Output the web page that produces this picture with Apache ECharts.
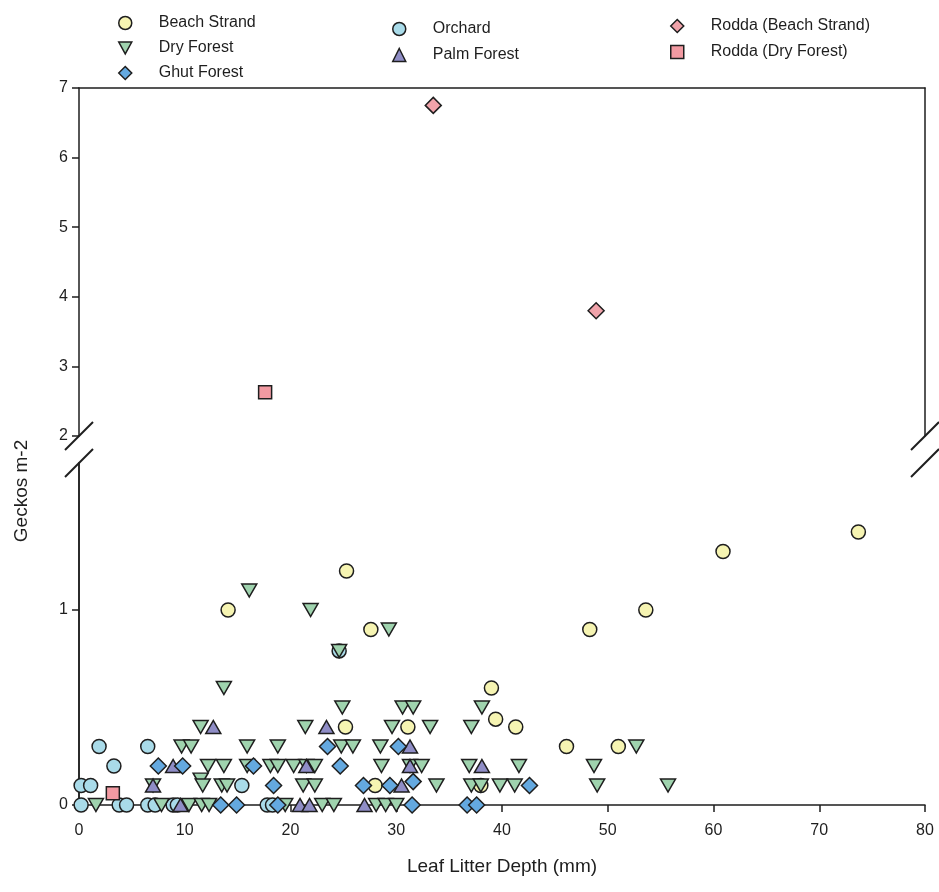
<!DOCTYPE html>
<html>
<head>
<meta charset="utf-8">
<script src="https://cdn.jsdelivr.net/npm/echarts@6/dist/echarts.min.js"></script>
<style>
html,body{margin:0;padding:0;background:#fff}
#chart{width:939px;height:892px}
</style>
</head>
<body>
<div id="chart"></div>
<script>
// leaf litter depth (mm), geckos per m2
var beachStrand = [[14.1,1.0],[25.3,1.2],[27.6,0.9],[25.2,0.4],[31.1,0.4],[39.0,0.6],[39.4,0.44],[41.3,0.4],
    [46.1,0.3],[51.0,0.3],[48.3,0.9],[53.6,1.0],[60.9,1.3],[73.7,1.4],[28.0,0.1],[38.0,0.1]];
var orchard = [[1.9,0.3],[6.5,0.3],[3.3,0.2],[0.2,0.1],[1.1,0.1],[15.4,0.1],[24.6,0.79],
    [0.2,0],[3.8,0],[4.5,0],[6.5,0],[7.2,0],[8.9,0],[9.3,0],[17.8,0],[18.3,0]];
var dryForest = [[16.1,1.1],[21.9,1.0],[29.3,0.9],[24.6,0.79],[13.7,0.6],
    [24.9,0.5],[30.6,0.5],[31.6,0.5],[38.1,0.5],
    [11.5,0.4],[21.4,0.4],[29.6,0.4],[33.2,0.4],[37.1,0.4],
    [9.7,0.3],[10.6,0.3],[15.9,0.3],[18.8,0.3],[24.8,0.3],[25.9,0.3],[28.5,0.3],[52.7,0.3],
    [12.2,0.2],[13.7,0.2],[15.9,0.2],[18.1,0.2],[18.8,0.2],[20.3,0.2],[21.5,0.2],[22.3,0.2],[28.6,0.2],
    [31.3,0.2],[32.4,0.2],[36.9,0.2],[41.6,0.2],[48.7,0.2],
    [7.0,0.1],[11.5,0.13],[11.7,0.1],[13.5,0.1],[14.0,0.1],[21.2,0.1],[22.3,0.1],[33.8,0.1],[37.1,0.1],
    [38.0,0.1],[39.8,0.1],[41.2,0.1],[49.0,0.1],[55.7,0.1],
    [1.6,0],[7.8,0],[10.4,0],[11.6,0],[12.3,0],[19.5,0],[23.0,0],[24.1,0],[28.1,0],[29.0,0],[30.0,0]];
var palmForest = [[12.7,0.4],[23.4,0.4],[31.3,0.3],[8.9,0.2],[21.5,0.2],[31.3,0.2],[38.1,0.2],
    [7.0,0.1],[30.5,0.1],[9.6,0],[20.9,0],[21.8,0],[27.0,0]];
var ghutForest = [[23.5,0.3],[30.2,0.3],[7.5,0.2],[9.8,0.2],[16.5,0.2],[24.7,0.2],
    [18.4,0.1],[26.9,0.1],[29.4,0.1],[31.6,0.12],[42.6,0.1],
    [13.4,0],[14.9,0],[18.8,0],[31.5,0],[36.7,0],[37.6,0]];
var roddaBeach = [[33.5,6.75],[48.9,3.8]];
var roddaDry = [[17.6,2.63],[3.2,0.06]];

var xTicks = [0,10,20,30,40,50,60,70,80];
var yTicksUpper = [2,3,4,5,6,7];
var yTicksLower = [0,1];

// layout of the two stacked panels (broken y axis)
var L = 79, R = 925, TOP = 88, BRK1 = 436, BRK2 = 463, BOT = 805;
var lowerMax = (BOT - BRK2) / 195; // 195 px per unit in lower panel

var font = 'Liberation Sans, Arial, sans-serif';
var ink = '#1e1e1e';
var downTri = 'path://M0,0 L12,0 L6,11 Z';

var groups = [
    {name:'Beach Strand', data:beachStrand, symbol:'circle', size:14, color:'#f6f4b2', rot:0},
    {name:'Orchard', data:orchard, symbol:'circle', size:14, color:'#a9dbe9', rot:0},
    {name:'Dry Forest', data:dryForest, symbol:'triangle', size:[15,13], color:'#9fd3ae', rot:180},
    {name:'Palm Forest', data:palmForest, symbol:'triangle', size:[15,13], color:'#8f8dc6', rot:0},
    {name:'Ghut Forest', data:ghutForest, symbol:'diamond', size:16, color:'#64a9e0', rot:0},
    {name:'Rodda (Beach Strand)', data:roddaBeach, symbol:'diamond', size:16, color:'#f0a3aa', rot:0},
    {name:'Rodda (Dry Forest)', data:roddaDry, symbol:'rect', size:13, color:'#f29aa2', rot:0}
];

var series = [];
groups.forEach(function (g) {
    var up = g.data.filter(function (d) { return d[1] >= 2; });
    var low = g.data.filter(function (d) { return d[1] < 2; });
    [[up, 0, 0], [low, 1, 2]].forEach(function (p) {
        if (!p[0].length) return;
        series.push({
            name: g.name,
            type: 'scatter',
            xAxisIndex: p[1],
            yAxisIndex: p[2],
            data: p[0],
            clip: false,
            symbol: g.symbol,
            symbolSize: g.size,
            symbolRotate: g.rot,
            itemStyle: {color: g.color, borderColor: ink, borderWidth: 1.5, opacity: 1},
            emphasis: {disabled: true}
        });
    });
});

function legendCol(items, left, top, gap) {
    return {
        data: items,
        orient: 'vertical',
        left: left,
        top: top,
        itemWidth: 13,
        itemHeight: 13,
        itemGap: gap,
        padding: 0,
        selectedMode: false,
        itemStyle: {borderColor: ink, borderWidth: 1.5},
        textStyle: {fontFamily: font, fontSize: 16, color: ink, padding: [0, 0, 0, 22]}
    };
}

var plainAxis = {
    axisLine: {show: true, lineStyle: {color: ink, width: 1.5}},
    axisTick: {show: false},
    axisLabel: {show: false},
    splitLine: {show: false}
};

var slashes = [];
[[L, BRK1], [L, BRK2], [R, BRK1], [R, BRK2]].forEach(function (c) {
    slashes.push({
        type: 'line',
        shape: {x1: c[0] - 14, y1: c[1] + 14, x2: c[0] + 14, y2: c[1] - 14},
        style: {stroke: ink, lineWidth: 2}
    });
});

var myChart = echarts.init(document.getElementById('chart'));
var option = {
    animation: false,
    backgroundColor: '#fff',
    legend: [
        legendCol(['Beach Strand', {name: 'Dry Forest', icon: downTri}, 'Ghut Forest'], 118, 15, 9),
        legendCol(['Orchard', 'Palm Forest'], 392, 21, 10),
        legendCol(['Rodda (Beach Strand)', 'Rodda (Dry Forest)'], 670, 18, 10)
    ],
    grid: [
        {left: L, right: 939 - R, top: TOP, height: BRK1 - TOP},
        {left: L, right: 939 - R, top: BRK2, height: BOT - BRK2}
    ],
    xAxis: [
        Object.assign({gridIndex: 0, type: 'value', position: 'top', min: 0, max: 80}, plainAxis),
        {
            gridIndex: 1, type: 'value', min: 0, max: 80, interval: 10,
            name: 'Leaf Litter Depth (mm)',
            nameLocation: 'middle',
            nameGap: 52,
            nameTextStyle: {fontFamily: font, fontSize: 19, color: ink},
            axisLine: {show: true, onZero: false, lineStyle: {color: ink, width: 1.5}},
            axisTick: {show: true, inside: false, length: 7, lineStyle: {color: ink, width: 1.5}, customValues: xTicks},
            axisLabel: {fontFamily: font, fontSize: 16, color: ink, margin: 18, customValues: xTicks},
            splitLine: {show: false}
        }
    ],
    yAxis: [
        {
            gridIndex: 0, type: 'value', min: 2, max: 7, interval: 1,
            axisLine: {show: true, lineStyle: {color: ink, width: 1.5}},
            axisTick: {show: true, length: 7, lineStyle: {color: ink, width: 1.5}, customValues: yTicksUpper},
            axisLabel: {fontFamily: font, fontSize: 16, color: ink, margin: 11, customValues: yTicksUpper},
            splitLine: {show: false}
        },
        Object.assign({gridIndex: 0, type: 'value', position: 'right', min: 2, max: 7}, plainAxis),
        {
            gridIndex: 1, type: 'value', min: 0, max: lowerMax,
            axisLine: {show: true, onZero: false, lineStyle: {color: ink, width: 1.5}},
            axisTick: {show: true, length: 7, lineStyle: {color: ink, width: 1.5}, customValues: yTicksLower},
            axisLabel: {fontFamily: font, fontSize: 16, color: ink, margin: 11, customValues: yTicksLower},
            splitLine: {show: false}
        },
        Object.assign({gridIndex: 1, type: 'value', position: 'right', min: 0, max: lowerMax}, plainAxis)
    ],
    graphic: slashes.concat([{
        type: 'text',
        x: 22,
        y: 491,
        rotation: Math.PI / 2,
        style: {text: 'Geckos m-2', fontFamily: font, fontSize: 19, fill: ink, align: 'center', verticalAlign: 'middle'}
    }]),
    series: series
};
myChart.setOption(option);
</script>
</body>
</html>
